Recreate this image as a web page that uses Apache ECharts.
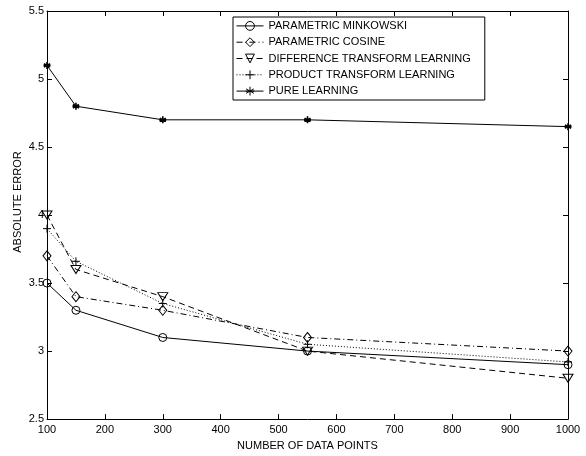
<!DOCTYPE html>
<html>
<head>
<meta charset="utf-8">
<script src="https://cdn.jsdelivr.net/npm/echarts@6/dist/echarts.min.js"></script>
<style>
  html, body { margin: 0; padding: 0; background: #fff; }
  #main { width: 586px; height: 456px; }
</style>
</head>
<body>
<div id="main"></div>
<script>
// data
var dataPoints = [100, 150, 300, 550, 1000]
var minkowski = [3.5, 3.3, 3.1, 3.0, 2.9]
var cosine = [3.7, 3.4, 3.3, 3.1, 3.0]
var diffTransform = [4.0, 3.6, 3.4, 3.0, 2.8]
var prodTransform = [3.9, 3.66, 3.35, 3.05, 2.92]
var pureLearning = [5.1, 4.8, 4.7, 4.7, 4.65]

var FONT = 'Liberation Sans, Arial, Helvetica, sans-serif'

var chart = echarts.init(document.getElementById('main'))

// marker shapes, stroked only
var triDown = 'path://M-1,-0.9L1,-0.9L0,0.9Z'
var plusSym = 'path://M0,-1L0,1M-1,0L1,0'
var starSym = 'path://M0,-1L0,1M-0.87,-0.5L0.87,0.5M-0.87,0.5L0.87,-0.5M-1,0L1,0'

function pairs(vals) {
  return vals.map(function (v, i) { return [dataPoints[i], v] })
}

function mkSeries(name, vals, symbol, size, dash, bw) {
  return {
    name: name,
    type: 'line',
    data: pairs(vals),
    symbol: symbol,
    symbolSize: size,
    showAllSymbol: true,
    lineStyle: { color: '#000', width: 1, type: dash },
    itemStyle: { color: 'none', borderColor: '#000', borderWidth: bw || 1 },
    emphasis: { disabled: true },
    z: 3
  }
}

var option = {
  animation: false,
  backgroundColor: '#fff',
  textStyle: { fontFamily: FONT },
  grid: { left: 47, top: 11, right: 18, bottom: 34 },
  // y axis title, sits a bit above the middle like the original
  graphic: [{
    type: 'text',
    x: 18,
    y: 202,
    rotation: Math.PI / 2,
    style: {
      text: 'ABSOLUTE ERROR',
      fontFamily: FONT,
      fontSize: 11,
      fill: '#000',
      align: 'center',
      verticalAlign: 'middle'
    }
  }],
  legend: {
    orient: 'vertical',
    left: 233,
    top: 17,
    itemWidth: 27,
    itemHeight: 11,
    itemGap: 2.5,
    padding: [2, 14, 2, 3],
    borderColor: '#000',
    borderWidth: 1,
    backgroundColor: '#fff',
    lineStyle: { width: 1 },
    itemStyle: { borderWidth: 1 },
    textStyle: { fontFamily: FONT, fontSize: 11, color: '#000' },
    data: ['PARAMETRIC MINKOWSKI', 'PARAMETRIC COSINE', 'DIFFERENCE TRANSFORM LEARNING',
      'PRODUCT TRANSFORM LEARNING', 'PURE LEARNING']
  },
  xAxis: [{
    type: 'value',
    min: 100,
    max: 1000,
    interval: 100,
    name: 'NUMBER OF DATA POINTS',
    nameLocation: 'middle',
    nameGap: 17,
    nameTextStyle: { fontFamily: FONT, fontSize: 11, color: '#000' },
    axisLine: { onZero: false, lineStyle: { color: '#000', width: 1 } },
    axisTick: { inside: true, length: 5, lineStyle: { color: '#000' } },
    axisLabel: {
      fontFamily: FONT, fontSize: 11, color: '#000', margin: 5,
      formatter: function (v) { return String(v) }
    },
    splitLine: { show: false }
  }, {
    type: 'value',
    position: 'top',
    min: 100,
    max: 1000,
    interval: 100,
    axisLine: { onZero: false, lineStyle: { color: '#000', width: 1 } },
    axisTick: { inside: true, length: 5, lineStyle: { color: '#000' } },
    axisLabel: { show: false },
    splitLine: { show: false }
  }],
  yAxis: [{
    type: 'value',
    min: 2.5,
    max: 5.5,
    interval: 0.5,
    axisLine: { show: true, onZero: false, lineStyle: { color: '#000', width: 1 } },
    axisTick: { show: true, inside: true, length: 5, lineStyle: { color: '#000' } },
    axisLabel: { fontFamily: FONT, fontSize: 11, color: '#000', margin: 3 },
    splitLine: { show: false }
  }, {
    type: 'value',
    position: 'right',
    min: 2.5,
    max: 5.5,
    interval: 0.5,
    axisLine: { show: true, onZero: false, lineStyle: { color: '#000', width: 1 } },
    axisTick: { show: true, inside: true, length: 5, lineStyle: { color: '#000' } },
    axisLabel: { show: false },
    splitLine: { show: false }
  }],
  series: [
    mkSeries('PARAMETRIC MINKOWSKI', minkowski, 'circle', 8, 'solid'),
    mkSeries('PARAMETRIC COSINE', cosine, 'diamond', [8, 10], [6, 3, 1, 3]),
    mkSeries('DIFFERENCE TRANSFORM LEARNING', diffTransform, triDown, [10, 8], [6, 4]),
    mkSeries('PRODUCT TRANSFORM LEARNING', prodTransform, plusSym, 8, [1, 2]),
    mkSeries('PURE LEARNING', pureLearning, starSym, 7, 'solid', 1.6)
  ]
}

option && chart.setOption(option)
</script>
</body>
</html>
